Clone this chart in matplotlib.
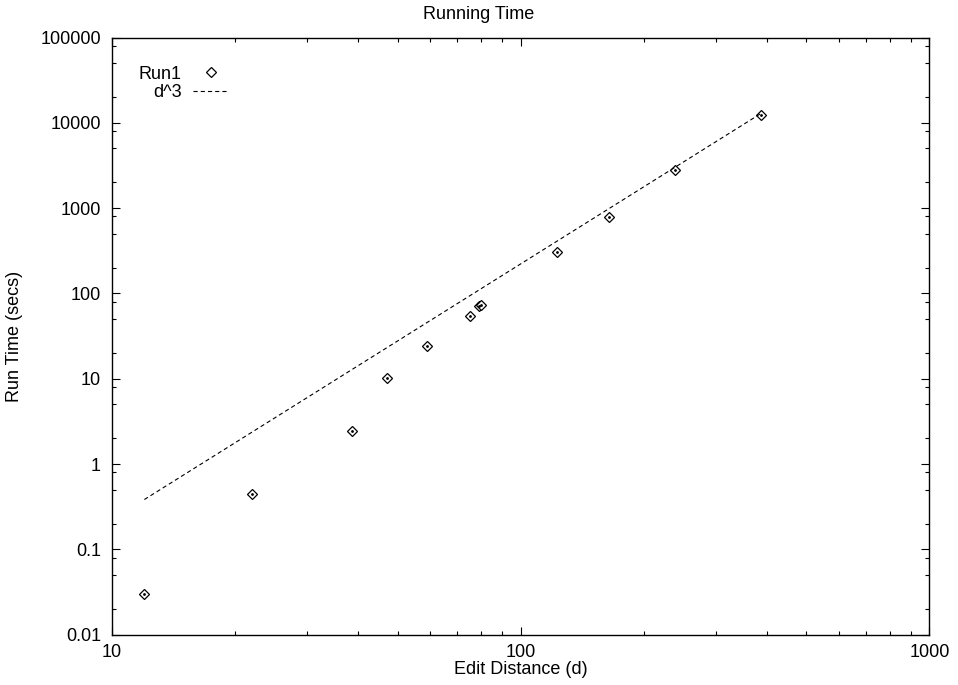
import numpy as np
import matplotlib
matplotlib.use('Agg')
import matplotlib.pyplot as plt
from matplotlib.ticker import LogLocator, FuncFormatter, NullFormatter

plt.rcParams['font.family'] = ['Liberation Sans', 'DejaVu Sans']
plt.rcParams['font.size'] = 13
plt.rcParams['lines.scale_dashes'] = False

# Running time data
edit_distance = [12, 22, 38.6, 47, 59, 75, 79, 80, 123, 164, 238, 387]
run_time = [0.03, 0.45, 2.44, 10.1, 24.4, 54, 71, 74, 303, 790, 2780, 12450]

# d^3 reference curve, scaled to sit near the runs
d3_scale = 1 / 4500.0
d3_x = np.array([edit_distance[0], edit_distance[-1]], dtype=float)
d3_y = d3_scale * d3_x ** 3

fig = plt.figure(figsize=(9.58, 6.85), dpi=100)
ax = fig.add_axes([112 / 958, 1 - 634.7 / 685, 817.5 / 958, 597.2 / 685])

ax.plot(edit_distance, run_time, linestyle='none', marker='D', markersize=5.2,
        markerfacecolor='white', markeredgecolor='black', markeredgewidth=0.9,
        label='Run1')
ax.plot(edit_distance, run_time, linestyle='none', marker='o', markersize=1.0,
        color='black')
ax.plot(d3_x, d3_y, color='black', linewidth=0.8, dashes=(3, 2.2), label='d^3')

ax.set_xscale('log')
ax.set_yscale('log')
ax.set_xlim(10, 1000)
ax.set_ylim(0.01, 100000)

ax.xaxis.set_major_locator(LogLocator(base=10))
ax.xaxis.set_minor_locator(LogLocator(base=10, subs=np.arange(2, 10)))
ax.yaxis.set_major_locator(LogLocator(base=10, numticks=20))
ax.yaxis.set_minor_locator(LogLocator(base=10, subs=[2, 5, 8], numticks=20))
fmt = FuncFormatter(lambda v, p: '%g' % v)
ax.xaxis.set_major_formatter(fmt)
ax.yaxis.set_major_formatter(fmt)
ax.xaxis.set_minor_formatter(NullFormatter())
ax.yaxis.set_minor_formatter(NullFormatter())
ax.xaxis.get_offset_text().set_visible(False)
ax.yaxis.get_offset_text().set_visible(False)

ax.tick_params(which='both', direction='in', top=True, right=True, width=0.8)
ax.tick_params(which='major', length=5.8)
ax.tick_params(which='minor', length=2.9)
ax.tick_params(axis='x', pad=7)
ax.tick_params(axis='y', pad=8)
for s in ax.spines.values():
    s.set_linewidth(1.0)

ax.set_title('Running Time', fontsize=13, x=0.449, pad=13)
ax.set_xlabel('Edit Distance (d)')
ax.set_ylabel('Run Time (secs)')
ax.xaxis.set_label_coords(0.5, -0.044)
ax.yaxis.set_label_coords(-0.109, 0.5)

ax.legend(loc='upper right', bbox_to_anchor=(0.143, 0.953), markerfirst=False,
          frameon=False, numpoints=1, handlelength=2.0, handletextpad=0.6,
          borderpad=0, borderaxespad=0, labelspacing=0.1)

fig.savefig('out.png', dpi=100)
